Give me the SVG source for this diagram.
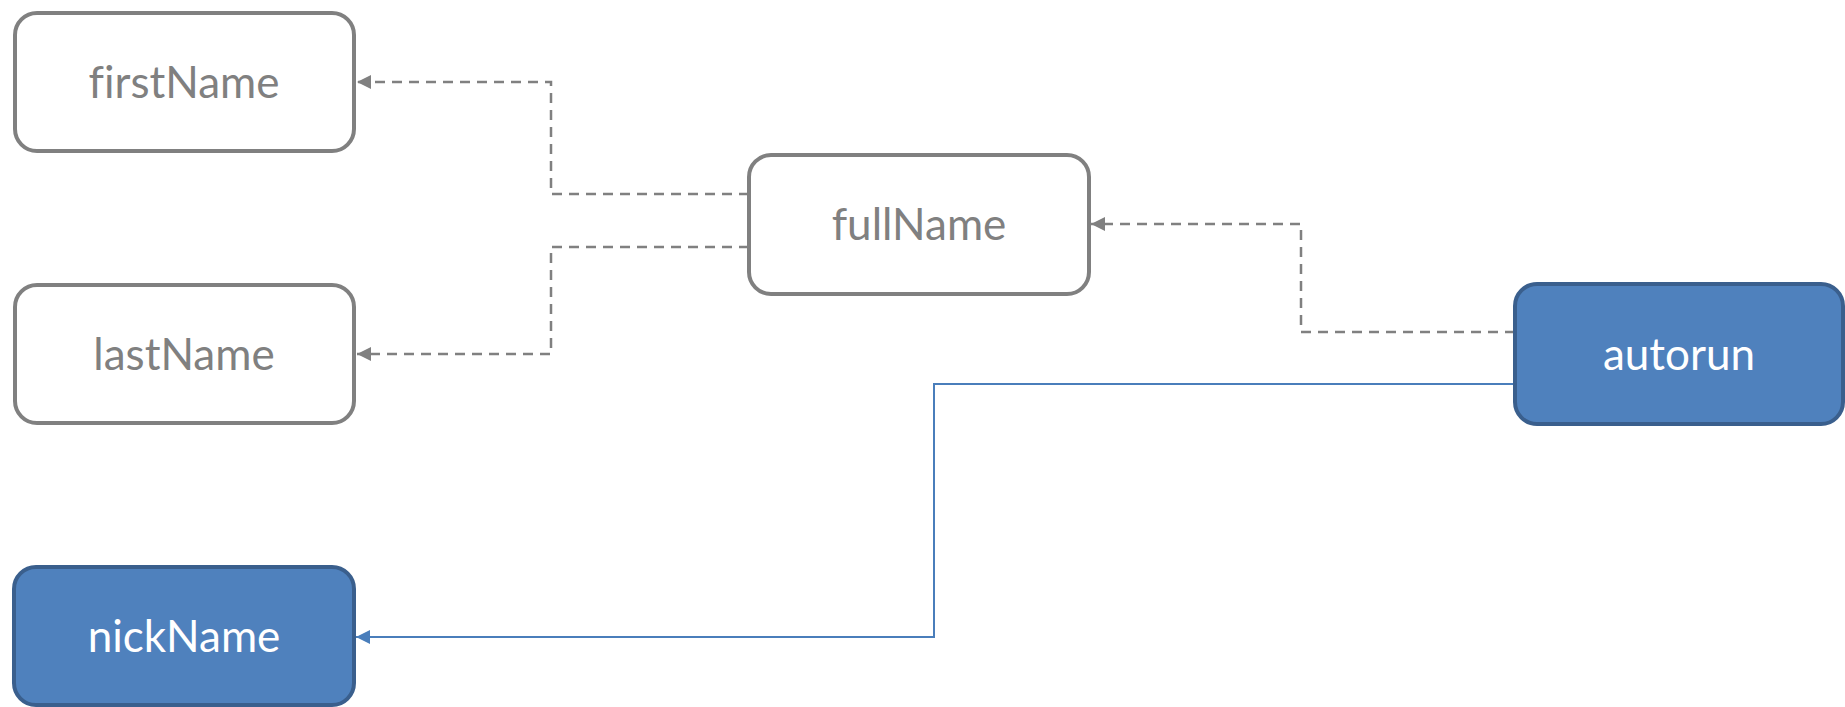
<svg xmlns="http://www.w3.org/2000/svg" width="1845" height="707" viewBox="0 0 1845 707">
<style>
.box{fill:#FFFFFF;stroke:#808080;stroke-width:4}
.bbox{fill:#4F81BD;stroke:#3A5F8D;stroke-width:4}
.t{font-family:Lato,"Open Sans","Liberation Sans",sans-serif;font-size:44px;text-anchor:middle;font-variant-ligatures:none}
.tg{fill:#808080}
.tw{fill:#FFFFFF}
.dash{fill:none;stroke:#808080;stroke-width:2.5;stroke-dasharray:10 7}
.solid{fill:none;stroke:#4A7EBB;stroke-width:2}
</style>
<defs>
<marker id="ag" markerUnits="userSpaceOnUse" markerWidth="14" markerHeight="14" refX="14" refY="7" orient="auto">
<path d="M0,0 L14,7 L0,14 z" fill="#808080"/>
</marker>
<marker id="ab" markerUnits="userSpaceOnUse" markerWidth="14" markerHeight="14" refX="14" refY="7" orient="auto">
<path d="M0,0 L14,7 L0,14 z" fill="#4A7EBB"/>
</marker>
</defs>
<rect width="1845" height="707" fill="#FFFFFF"/>
<g id="connectors">
<path class="dash" d="M749,194 H551 V82 H357" marker-end="url(#ag)"/>
<path class="dash" d="M749,247 H551 V354 H357" marker-end="url(#ag)"/>
<path class="dash" d="M1515,332 H1301 V224 H1091" marker-end="url(#ag)"/>
<path class="solid" d="M1515,384 H934 V637 H356" marker-end="url(#ab)"/>
</g>
<g id="firstName">
<rect class="box" x="15" y="13" width="339" height="138" rx="22"/>
<text class="t tg" x="184" y="98">firstName</text>
</g>
<g id="lastName">
<rect class="box" x="15" y="285" width="339" height="138" rx="22"/>
<text class="t tg" x="184" y="370">lastName</text>
</g>
<g id="fullName">
<rect class="box" x="749" y="155" width="340" height="139" rx="22"/>
<text class="t tg" x="919" y="240">fullName</text>
</g>
<g id="autorun">
<rect class="bbox" x="1515" y="284" width="328" height="140" rx="22"/>
<text class="t tw" x="1679" y="370">autorun</text>
</g>
<g id="nickName">
<rect class="bbox" x="14" y="567" width="340" height="138" rx="22"/>
<text class="t tw" x="184" y="652">nickName</text>
</g>
</svg>
